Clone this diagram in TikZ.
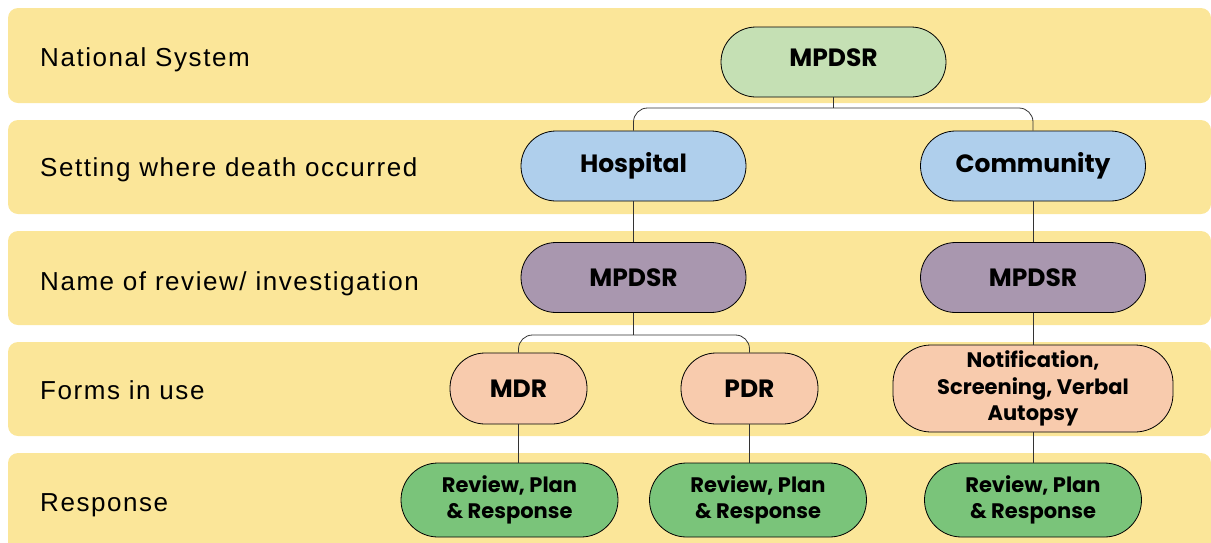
\documentclass[tikz,border=0pt]{standalone}
\usepackage{fontspec}
\setmainfont{Liberation Sans}
\newfontfamily\labfont[LetterSpace=6]{Liberation Sans}
\newfontfamily\nodefont{Poppins}
\definecolor{bandc}{HTML}{FBE699}
\definecolor{topg}{HTML}{C5E0B4}
\definecolor{bluec}{HTML}{AFCFEC}
\definecolor{purc}{HTML}{A997AF}
\definecolor{peachc}{HTML}{F8CBAD}
\definecolor{greenc}{HTML}{7AC47A}
\definecolor{linec}{HTML}{333333}
\tikzset{
  band/.style={fill=bandc, draw=none, rounded corners=10pt},
  lab/.style={anchor=base west, inner sep=0pt, font=\labfont\fontsize{26}{30}\selectfont, text=black},
  pill/.style={draw=black, line width=0.8pt, rounded corners=35pt, minimum width=225pt, minimum height=70pt, inner sep=2pt, align=center, font=\nodefont\bfseries\fontsize{25}{29}\selectfont},
  small/.style={font=\nodefont\bfseries\fontsize{21}{26.5}\selectfont},
  conn/.style={draw=linec, line width=0.8pt},
}
\begin{document}
\begin{tikzpicture}[x=1pt,y=-1pt]
\useasboundingbox (0,0) rectangle (1211,542);
% bands
\fill[band] (8,8) rectangle (1211,103);
\fill[band] (8,120) rectangle (1211,214);
\fill[band] (8,231) rectangle (1211,325);
\fill[band] (8,342) rectangle (1211,436);
\fill[band] (8,453) rectangle (1211,560);
% labels
\node[lab] (l1) at (40,66.5) {National System};
\node[lab] (l2) at (40,176.7) {Setting where death occurred};
\node[lab] (l3) at (40,290) {Name of review/ investigation};
\node[lab] (l4) at (40,399.3) {Forms in use};
\node[lab] (l5) at (40,511) {Response};
% nodes
\node[pill, fill=topg] (top) at (833.5,62) {\raisebox{8pt}{MPDSR}};
\node[pill, fill=bluec] (hosp) at (633.5,166) {Hospital};
\node[pill, fill=bluec] (comm) at (1033,166) {Community};
\node[pill, fill=purc] (ph) at (633.5,277.5) {MPDSR};
\node[pill, fill=purc] (pc) at (1033,277.5) {MPDSR};
\node[pill, fill=peachc, minimum width=137pt, minimum height=71pt] (mdr) at (518.5,388.5) {MDR};
\node[pill, fill=peachc, minimum width=137pt, minimum height=71pt] (pdr) at (749.5,388.5) {PDR};
\node[pill, small, fill=peachc, minimum width=280pt, minimum height=87pt, rounded corners=38pt] (notif) at (1033,388.5) {Notification,\\Screening, Verbal\\Autopsy};
\node[pill, small, fill=greenc, minimum width=217pt, minimum height=74pt, rounded corners=37pt] (ra) at (509.5,500) {Review, Plan\\\& Response};
\node[pill, small, fill=greenc, minimum width=217pt, minimum height=74pt, rounded corners=37pt] (rb) at (758,500) {Review, Plan\\\& Response};
\node[pill, small, fill=greenc, minimum width=217pt, minimum height=74pt, rounded corners=37pt] (rc) at (1033,500) {Review, Plan\\\& Response};
% connectors
\coordinate (j1) at (833.5,108);
\coordinate (j2) at (633.5,335);
\draw[conn] (top.south) -- (j1);
\draw[conn, rounded corners=14pt] (hosp.north) |- (j1) -| (comm.north);
\draw[conn] (hosp.south) -- (ph.north);
\draw[conn] (comm.south) -- (pc.north);
\draw[conn] (ph.south) -- (j2);
\draw[conn, rounded corners=14pt] (mdr.north) |- (j2) -| (pdr.north);
\draw[conn] (pc.south) -- (notif.north);
\draw[conn] (notif.south) -- (rc.north);
\draw[conn] (mdr.south) -- (mdr.south |- ra.north);
\draw[conn] (pdr.south) -- (pdr.south |- rb.north);
\end{tikzpicture}
\end{document}
